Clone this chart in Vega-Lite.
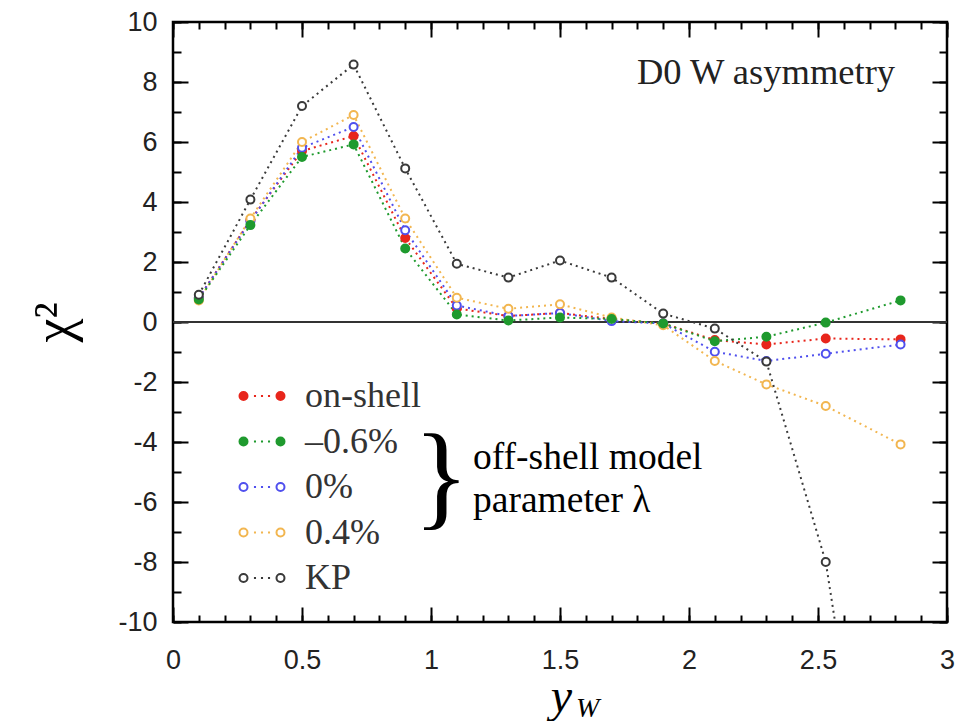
{
  "$schema": "https://vega.github.io/schema/vega-lite/v6.json",
  "width": 774,
  "height": 600,
  "autosize": {"type": "none"},
  "padding": {"left": 173, "top": 22, "right": 15, "bottom": 99},
  "background": "white",
  "config": {
    "view": {"stroke": "black", "strokeWidth": 2.5},
    "axis": {"domain": false, "grid": false, "tickColor": "black", "tickWidth": 2}
  },
  "data": {
    "values": [
      {"s": "on-shell", "x": 0.1, "v": 0.8}, {"s": "on-shell", "x": 0.3, "v": 3.4}, {"s": "on-shell", "x": 0.5, "v": 5.7}, {"s": "on-shell", "x": 0.7, "v": 6.2}, {"s": "on-shell", "x": 0.9, "v": 2.8}, {"s": "on-shell", "x": 1.1, "v": 0.45}, {"s": "on-shell", "x": 1.3, "v": 0.2}, {"s": "on-shell", "x": 1.5, "v": 0.3}, {"s": "on-shell", "x": 1.7, "v": 0.1}, {"s": "on-shell", "x": 1.9, "v": -0.05}, {"s": "on-shell", "x": 2.1, "v": -0.6}, {"s": "on-shell", "x": 2.3, "v": -0.75}, {"s": "on-shell", "x": 2.53, "v": -0.55}, {"s": "on-shell", "x": 2.82, "v": -0.58},
      {"s": "0%", "x": 0.1, "v": 0.8}, {"s": "0%", "x": 0.3, "v": 3.36}, {"s": "0%", "x": 0.5, "v": 5.81}, {"s": "0%", "x": 0.7, "v": 6.5}, {"s": "0%", "x": 0.9, "v": 3.06}, {"s": "0%", "x": 1.1, "v": 0.55}, {"s": "0%", "x": 1.3, "v": 0.2}, {"s": "0%", "x": 1.5, "v": 0.3}, {"s": "0%", "x": 1.7, "v": 0.03}, {"s": "0%", "x": 1.9, "v": -0.05}, {"s": "0%", "x": 2.1, "v": -0.99}, {"s": "0%", "x": 2.3, "v": -1.3}, {"s": "0%", "x": 2.53, "v": -1.06}, {"s": "0%", "x": 2.82, "v": -0.75},
      {"s": "0.4%", "x": 0.1, "v": 0.72}, {"s": "0.4%", "x": 0.3, "v": 3.45}, {"s": "0.4%", "x": 0.5, "v": 6.0}, {"s": "0.4%", "x": 0.7, "v": 6.9}, {"s": "0.4%", "x": 0.9, "v": 3.45}, {"s": "0.4%", "x": 1.1, "v": 0.81}, {"s": "0.4%", "x": 1.3, "v": 0.44}, {"s": "0.4%", "x": 1.5, "v": 0.59}, {"s": "0.4%", "x": 1.7, "v": 0.15}, {"s": "0.4%", "x": 1.9, "v": -0.11}, {"s": "0.4%", "x": 2.1, "v": -1.3}, {"s": "0.4%", "x": 2.3, "v": -2.08}, {"s": "0.4%", "x": 2.53, "v": -2.8}, {"s": "0.4%", "x": 2.82, "v": -4.08},
      {"s": "–0.6%", "x": 0.1, "v": 0.75}, {"s": "–0.6%", "x": 0.3, "v": 3.23}, {"s": "–0.6%", "x": 0.5, "v": 5.5}, {"s": "–0.6%", "x": 0.7, "v": 5.92}, {"s": "–0.6%", "x": 0.9, "v": 2.45}, {"s": "–0.6%", "x": 1.1, "v": 0.25}, {"s": "–0.6%", "x": 1.3, "v": 0.05}, {"s": "–0.6%", "x": 1.5, "v": 0.15}, {"s": "–0.6%", "x": 1.7, "v": 0.1}, {"s": "–0.6%", "x": 1.9, "v": -0.05}, {"s": "–0.6%", "x": 2.1, "v": -0.64}, {"s": "–0.6%", "x": 2.3, "v": -0.49}, {"s": "–0.6%", "x": 2.53, "v": -0.02}, {"s": "–0.6%", "x": 2.82, "v": 0.72},
      {"s": "KP", "x": 0.1, "v": 0.91}, {"s": "KP", "x": 0.3, "v": 4.08}, {"s": "KP", "x": 0.5, "v": 7.2}, {"s": "KP", "x": 0.7, "v": 8.58}, {"s": "KP", "x": 0.9, "v": 5.12}, {"s": "KP", "x": 1.1, "v": 1.94}, {"s": "KP", "x": 1.3, "v": 1.48}, {"s": "KP", "x": 1.5, "v": 2.05}, {"s": "KP", "x": 1.7, "v": 1.48}, {"s": "KP", "x": 1.9, "v": 0.28}, {"s": "KP", "x": 2.1, "v": -0.22}, {"s": "KP", "x": 2.3, "v": -1.32}, {"s": "KP", "x": 2.53, "v": -8.0}, {"s": "KP", "x": 2.82, "v": -24}
    ]
  },
  "layer": [
    {
      "mark": {"type": "rule", "color": "#333333", "strokeWidth": 2},
      "encoding": {
        "y": {"datum": 0, "type": "quantitative", "scale": {"domain": [-10, 10], "nice": false, "zero": false}, "axis": null}
      }
    },
    {
      "mark": {"type": "line", "strokeDash": [2, 4], "strokeWidth": 2, "clip": true},
      "encoding": {
        "x": {"field": "x", "type": "quantitative", "scale": {"domain": [0, 3], "nice": false, "zero": false},
          "axis": {"orient": "bottom", "values": [0, 0.5, 1, 1.5, 2, 2.5, 3], "tickSize": -15, "labelPadding": 40, "labelFont": "Liberation Sans", "labelFontSize": 27, "labelColor": "#222222", "labelFlush": false, "labelOverlap": false, "labelExpr": "'' + datum.value",
            "title": "y", "titleFont": "Liberation Serif", "titleFontStyle": "italic", "titleFontSize": 48, "titleFontWeight": "normal", "titleColor": "black", "titleX": 388, "titleY": 89, "titleBaseline": "alphabetic", "titleAlign": "center"}},
        "y": {"field": "v", "type": "quantitative", "scale": {"domain": [-10, 10], "nice": false, "zero": false},
          "axis": {"orient": "left", "values": [-10, -8, -6, -4, -2, 0, 2, 4, 6, 8, 10], "tickSize": -15, "labelPadding": 31, "labelFont": "Liberation Sans", "labelFontSize": 27, "labelColor": "#222222", "labelFlush": false, "labelOverlap": false, "labelExpr": "'' + datum.value",
            "title": "χ²", "titleFont": "Liberation Serif", "titleFontSize": 54, "titleFontWeight": "normal", "titleColor": "black", "titleX": -103, "titleY": 300, "titleBaseline": "alphabetic", "titleAlign": "center", "titleAngle": 270}},
        "color": {"field": "s", "type": "nominal", "scale": {"domain": ["KP", "0.4%", "0%", "–0.6%", "on-shell"], "range": ["#3a3a3a", "#f2b650", "#5050ee", "#1f9a2e", "#e8261c"]}, "legend": null},
        "detail": {"field": "s"}
      }
    },
    {
      "mark": {"type": "point", "shape": "circle", "size": 64, "strokeWidth": 2, "opacity": 1, "clip": true},
      "encoding": {
        "x": {"field": "x", "type": "quantitative", "scale": {"domain": [0, 3], "nice": false, "zero": false},
          "axis": {"orient": "bottom", "values": [0, 0.1, 0.2, 0.3, 0.4, 0.5, 0.6, 0.7, 0.8, 0.9, 1, 1.1, 1.2, 1.3, 1.4, 1.5, 1.6, 1.7, 1.8, 1.9, 2, 2.1, 2.2, 2.3, 2.4, 2.5, 2.6, 2.7, 2.8, 2.9, 3], "tickSize": -7, "labels": false, "title": null}},
        "y": {"field": "v", "type": "quantitative", "scale": {"domain": [-10, 10], "nice": false, "zero": false},
          "axis": {"orient": "left", "values": [-10, -9, -8, -7, -6, -5, -4, -3, -2, -1, 0, 1, 2, 3, 4, 5, 6, 7, 8, 9, 10], "tickSize": -8, "labels": false, "title": null}},
        "stroke": {"field": "s", "type": "nominal", "scale": {"domain": ["on-shell", "–0.6%", "0%", "0.4%", "KP"], "range": ["#e8261c", "#1f9a2e", "#5050ee", "#f2b650", "#3a3a3a"]},
          "legend": {"title": null, "orient": "none", "legendX": 65, "legendY": 350, "padding": 0, "symbolType": "M -0.978 0 C -0.978 -0.0961 -0.9001 -0.174 -0.804 -0.174 C -0.7079 -0.174 -0.63 -0.0961 -0.63 0 C -0.63 0.0961 -0.7079 0.174 -0.804 0.174 C -0.9001 0.174 -0.978 0.0961 -0.978 0 Z M 0.63 0 C 0.63 -0.0961 0.7079 -0.174 0.804 -0.174 C 0.9001 -0.174 0.978 -0.0961 0.978 0 C 0.978 0.0961 0.9001 0.174 0.804 0.174 C 0.7079 0.174 0.63 0.0961 0.63 0 Z M -0.35 0 L -0.26 0 M -0.045 0 L 0.045 0 M 0.26 0 L 0.35 0", "symbolSize": 2116, "symbolStrokeWidth": 2, "labelFont": "Liberation Serif", "labelFontSize": 36, "labelColor": "#333333", "labelOffset": 19, "rowPadding": 3.5}},
        "fill": {"field": "s", "type": "nominal", "scale": {"domain": ["on-shell", "–0.6%", "0%", "0.4%", "KP"], "range": ["#e8261c", "#1f9a2e", "#ffffff", "#ffffff", "#ffffff"]},
          "legend": {"title": null, "orient": "none", "legendX": 65, "legendY": 350, "padding": 0, "symbolType": "M -0.978 0 C -0.978 -0.0961 -0.9001 -0.174 -0.804 -0.174 C -0.7079 -0.174 -0.63 -0.0961 -0.63 0 C -0.63 0.0961 -0.7079 0.174 -0.804 0.174 C -0.9001 0.174 -0.978 0.0961 -0.978 0 Z M 0.63 0 C 0.63 -0.0961 0.7079 -0.174 0.804 -0.174 C 0.9001 -0.174 0.978 -0.0961 0.978 0 C 0.978 0.0961 0.9001 0.174 0.804 0.174 C 0.7079 0.174 0.63 0.0961 0.63 0 Z M -0.35 0 L -0.26 0 M -0.045 0 L 0.045 0 M 0.26 0 L 0.35 0", "symbolSize": 2116, "symbolStrokeWidth": 2, "labelFont": "Liberation Serif", "labelFontSize": 36, "labelColor": "#333333", "labelOffset": 19, "rowPadding": 3.5}}
      }
    },
    {
      "data": {"values": [{"t": "}"}]},
      "mark": {"type": "text", "font": "Liberation Serif", "fontSize": 116, "align": "center", "baseline": "alphabetic", "color": "black"},
      "encoding": {
        "x": {"datum": 1.04, "type": "quantitative", "scale": {"domain": [0, 3], "nice": false, "zero": false},
          "axis": {"orient": "top", "values": [0, 0.5, 1, 1.5, 2, 2.5, 3], "tickSize": -15, "labels": false, "title": null}},
        "y": {"datum": -6.4, "type": "quantitative", "scale": {"domain": [-10, 10], "nice": false, "zero": false},
          "axis": {"orient": "right", "values": [-10, -8, -6, -4, -2, 0, 2, 4, 6, 8, 10], "tickSize": -15, "labels": false, "title": null}},
        "text": {"field": "t"}
      }
    },
    {
      "data": {"values": [{"t": "D0 W asymmetry"}]},
      "mark": {"type": "text", "font": "Liberation Serif", "fontSize": 36.5, "align": "left", "baseline": "alphabetic", "color": "#222222"},
      "encoding": {
        "x": {"datum": 1.798, "type": "quantitative", "scale": {"domain": [0, 3], "nice": false, "zero": false},
          "axis": {"orient": "top", "values": [0, 0.1, 0.2, 0.3, 0.4, 0.5, 0.6, 0.7, 0.8, 0.9, 1, 1.1, 1.2, 1.3, 1.4, 1.5, 1.6, 1.7, 1.8, 1.9, 2, 2.1, 2.2, 2.3, 2.4, 2.5, 2.6, 2.7, 2.8, 2.9, 3], "tickSize": -7, "labels": false, "title": null}},
        "y": {"datum": 7.95, "type": "quantitative", "scale": {"domain": [-10, 10], "nice": false, "zero": false},
          "axis": {"orient": "right", "values": [-10, -9, -8, -7, -6, -5, -4, -3, -2, -1, 0, 1, 2, 3, 4, 5, 6, 7, 8, 9, 10], "tickSize": -8, "labels": false, "title": null}},
        "text": {"field": "t"}
      }
    },
    {
      "data": {"values": [{"t": "off-shell model\nparameter  λ"}]},
      "mark": {"type": "text", "font": "Liberation Serif", "fontSize": 37.5, "lineBreak": "\n", "lineHeight": 43, "align": "left", "baseline": "alphabetic", "color": "black"},
      "encoding": {
        "x": {"datum": 1.163, "type": "quantitative", "axis": null},
        "y": {"datum": -4.913, "type": "quantitative", "axis": null},
        "text": {"field": "t"}
      }
    },
    {
      "data": {"values": [{"t": "W"}]},
      "mark": {"type": "text", "font": "Liberation Serif", "fontSize": 28, "fontStyle": "italic", "align": "left", "baseline": "alphabetic", "color": "black"},
      "encoding": {
        "x": {"datum": 1.562, "type": "quantitative", "axis": null},
        "y": {"datum": -13.15, "type": "quantitative", "axis": null},
        "text": {"field": "t"}
      }
    }
  ],
  "resolve": {"axis": {"x": "independent", "y": "independent"}}
}
